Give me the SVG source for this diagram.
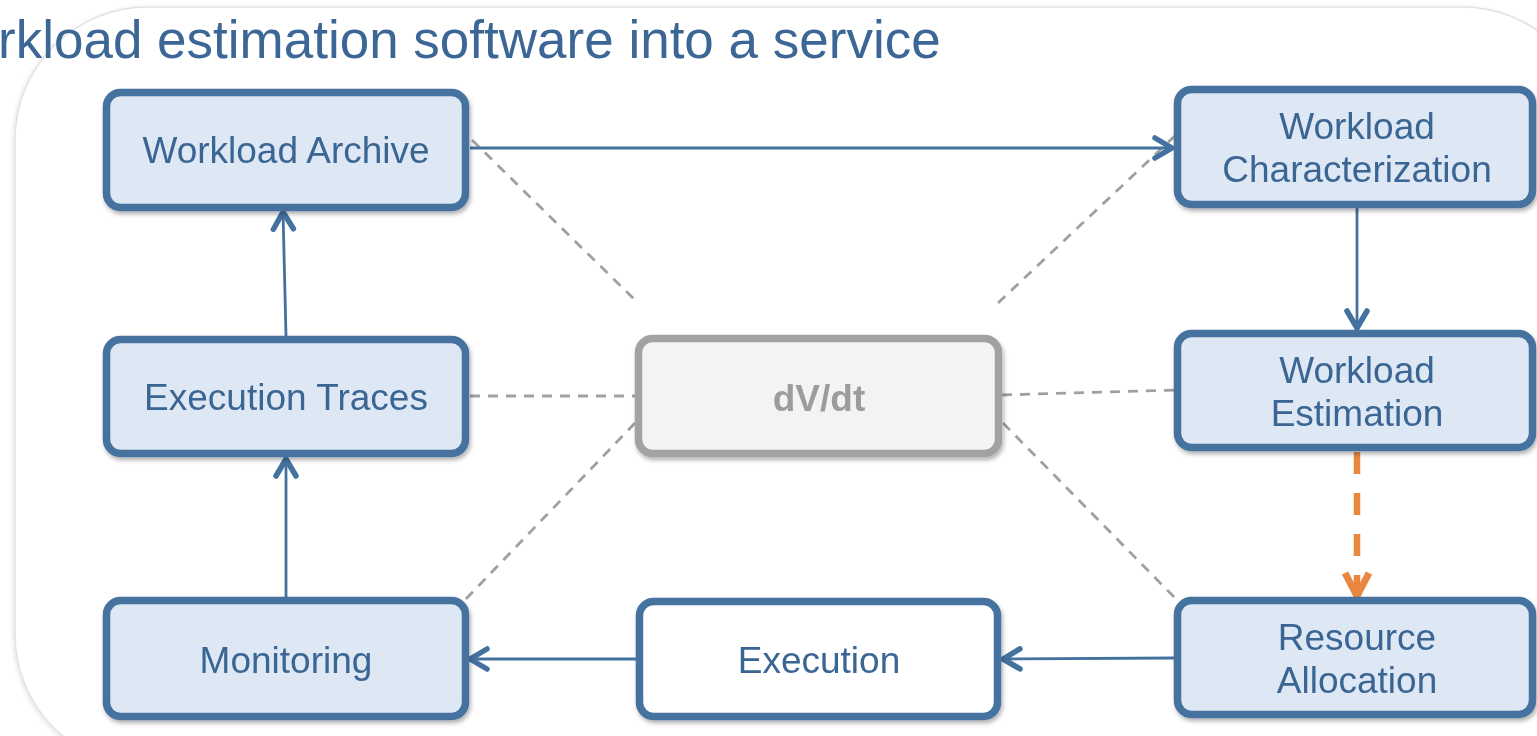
<svg xmlns="http://www.w3.org/2000/svg" width="1537" height="736" viewBox="0 0 1537 736">
<defs>
<filter id="sh" x="-10%" y="-10%" width="120%" height="130%">
<feDropShadow dx="1.5" dy="3" stdDeviation="2" flood-color="#000" flood-opacity="0.3"/>
</filter>
<filter id="bgsh" x="-5%" y="-5%" width="110%" height="110%">
<feDropShadow dx="-1" dy="1" stdDeviation="2" flood-color="#000" flood-opacity="0.12"/>
</filter>
<marker id="ab" markerUnits="userSpaceOnUse" markerWidth="30" markerHeight="30" refX="18" refY="11" orient="auto" overflow="visible">
<path d="M1,1 L18,11 L1,21" fill="none" stroke="#44729f" stroke-width="5.5" stroke-linecap="round" stroke-linejoin="round"/>
</marker>
<marker id="ao" markerUnits="userSpaceOnUse" markerWidth="34" markerHeight="34" refX="24" refY="13" orient="auto" overflow="visible">
<path d="M1,1 L24,13 L1,25" fill="none" stroke="#e8873f" stroke-width="7" stroke-linecap="butt" stroke-linejoin="miter"/>
</marker>
</defs>
<style>
.box{fill:#dde8f4;stroke:#44729f;stroke-width:7.5}
.wbox{fill:#ffffff;stroke:#44729f;stroke-width:7.5}
.gbox{fill:#f3f3f3;stroke:#a2a2a2;stroke-width:7.5}
.t{font-family:"Liberation Sans",Arial,sans-serif;font-size:37px;fill:#3b6593;text-anchor:middle}
.g{font-family:"Liberation Sans",Arial,sans-serif;font-size:37px;font-weight:bold;fill:#9c9c9c;text-anchor:middle}
.c{fill:none;stroke:#44729f;stroke-width:2.8}
.d{fill:none;stroke:#a0a0a0;stroke-width:2.8;stroke-dasharray:10 8}
.o{fill:none;stroke:#e8873f;stroke-width:6.5;stroke-dasharray:22 19}
</style>
<rect width="1537" height="736" fill="#ffffff"/>
<rect x="15" y="7" width="1580" height="760" rx="133" ry="133" fill="#ffffff" stroke="#e2e2e2" stroke-width="1.5" filter="url(#bgsh)"/>
<text x="-2" y="58" font-family="'Liberation Sans',Arial,sans-serif" font-size="53" fill="#3b6696">rkload estimation software into a service</text>
<g id="connectors">
<line class="d" x1="472" y1="140" x2="638" y2="303"/>
<line class="d" x1="998" y1="303" x2="1178" y2="133"/>
<line class="d" x1="470" y1="396" x2="637" y2="396"/>
<line class="d" x1="1002" y1="395" x2="1175" y2="390"/>
<line class="d" x1="635" y1="423" x2="465" y2="600"/>
<line class="d" x1="1003" y1="423" x2="1177" y2="600"/>
<line class="c" x1="470" y1="148" x2="1172" y2="148" marker-end="url(#ab)"/>
<line class="c" x1="1357" y1="208" x2="1357" y2="328" marker-end="url(#ab)"/>
<line class="o" x1="1357" y1="452" x2="1357" y2="596" marker-end="url(#ao)"/>
<line class="c" x1="1174" y1="658" x2="1003" y2="659" marker-end="url(#ab)"/>
<line class="c" x1="637" y1="659" x2="470" y2="659" marker-end="url(#ab)"/>
<line class="c" x1="286" y1="598" x2="286" y2="459" marker-end="url(#ab)"/>
<line class="c" x1="286" y1="336" x2="283" y2="212" marker-end="url(#ab)"/>
</g>
<g id="workload-archive" filter="url(#sh)">
<rect class="box" x="106.5" y="92.5" width="359" height="115" rx="14"/>
<text class="t" x="286" y="163">Workload Archive</text>
</g>
<g id="workload-characterization" filter="url(#sh)">
<rect class="box" x="1177.5" y="89.5" width="355" height="115" rx="14"/>
<text class="t" x="1357" y="139">Workload</text>
<text class="t" x="1357" y="182">Characterization</text>
</g>
<g id="execution-traces" filter="url(#sh)">
<rect class="box" x="106.5" y="339.5" width="359" height="114" rx="14"/>
<text class="t" x="286" y="410">Execution Traces</text>
</g>
<g id="dvdt" filter="url(#sh)">
<rect class="gbox" x="638.5" y="338.5" width="360" height="115" rx="14"/>
<text class="g" x="819" y="411">dV/dt</text>
</g>
<g id="workload-estimation" filter="url(#sh)">
<rect class="box" x="1177.5" y="333.5" width="355" height="114" rx="14"/>
<text class="t" x="1357" y="383">Workload</text>
<text class="t" x="1357" y="426">Estimation</text>
</g>
<g id="monitoring" filter="url(#sh)">
<rect class="box" x="106.5" y="600.5" width="359" height="116" rx="14"/>
<text class="t" x="286" y="673">Monitoring</text>
</g>
<g id="execution" filter="url(#sh)">
<rect class="wbox" x="639.5" y="601.5" width="358" height="115" rx="14"/>
<text class="t" x="819" y="673">Execution</text>
</g>
<g id="resource-allocation" filter="url(#sh)">
<rect class="box" x="1177.5" y="600.5" width="355" height="114" rx="14"/>
<text class="t" x="1357" y="650">Resource</text>
<text class="t" x="1357" y="693">Allocation</text>
</g>
</svg>
